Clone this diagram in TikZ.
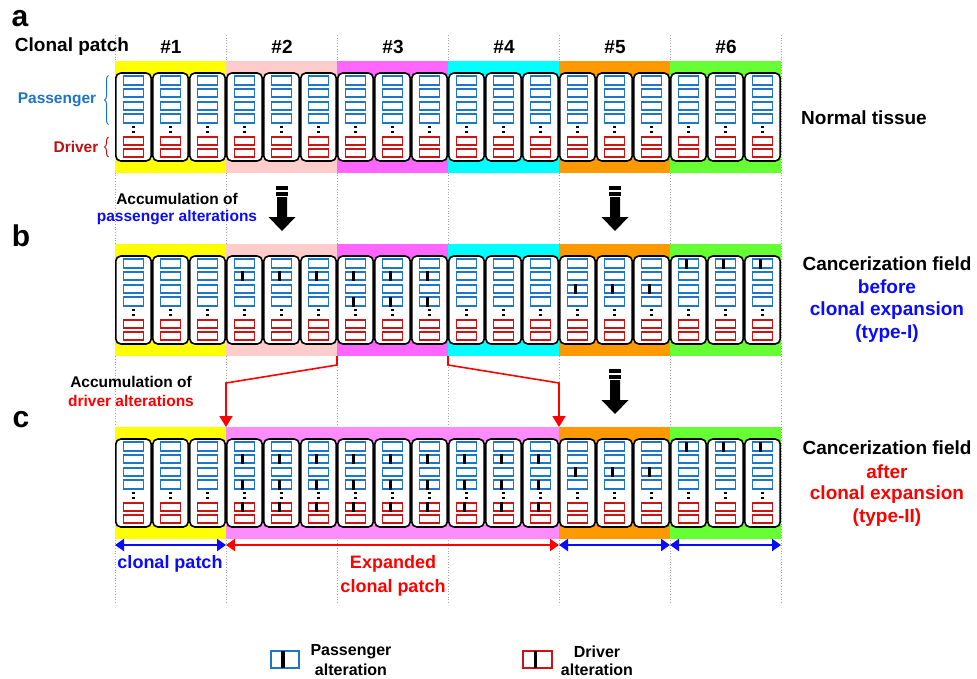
\documentclass[tikz,border=0pt]{standalone}
\usepackage{fontspec}
\setmainfont{Liberation Sans}
\usetikzlibrary{arrows.meta,decorations.pathreplacing}
\definecolor{pblue}{RGB}{30,118,200}
\definecolor{dred}{RGB}{204,20,20}
\definecolor{lblue}{RGB}{30,115,195}
\definecolor{ldred}{RGB}{192,16,16}
\definecolor{tblue}{RGB}{10,10,255}
\definecolor{tred}{RGB}{255,0,0}
\definecolor{byellow}{RGB}{255,255,0}
\definecolor{bpink}{RGB}{255,204,204}
\definecolor{bmag}{RGB}{255,102,255}
\definecolor{bmagl}{RGB}{255,140,255}
\definecolor{bcyan}{RGB}{0,255,255}
\definecolor{borange}{RGB}{255,153,0}
\definecolor{bgreen}{RGB}{102,255,51}
\newcommand\fs[1]{\fontsize{#1}{#1}\selectfont\bfseries}
\newcommand\mycell[3]{%
  \draw[cellbox] (#1+0.8,#2) rectangle (#1+36.2,#2+88);
  \foreach \dy in {7.5,20,33,45.5} \draw[pbox] (#1+8.5,#2+\dy-4.3) rectangle (#1+28.5,#2+\dy+4.3);
  \foreach \dy in {68,80} \draw[dbox] (#1+8.5,#2+\dy-4.3) rectangle (#1+28.5,#2+\dy+4.3);
  \fill (#1+17.1,#2+52.6) rectangle (#1+19.9,#2+55.4);
  \fill (#1+17.1,#2+57.6) rectangle (#1+19.9,#2+60.4);
  \foreach \m in {#3} {%
    \ifnum\m>0
      \ifcase\m\or\def\yy{7.5}\or\def\yy{20}\or\def\yy{33}\or\def\yy{45.5}\or\def\yy{68}\fi
      \fill (#1+15.2,#2+\yy-5) rectangle (#1+18,#2+\yy+5);
    \fi}
}
\newcommand\bigarrow[2]{%
  \fill (#1-6,#2) rectangle (#1+6,#2+3.5);
  \fill (#1-6,#2+5.5) rectangle (#1+6,#2+9.5);
  \fill (#1-5,#2+11) -- (#1+5,#2+11) -- (#1+5,#2+31) -- (#1+13.5,#2+31) -- (#1,#2+45)
        -- (#1-13.5,#2+31) -- (#1-5,#2+31) -- cycle;
}
\begin{document}
\begin{tikzpicture}[x=1pt,y=-1pt,
  cellbox/.style={draw=black,fill=white,line width=1.6pt,rounded corners=5pt},
  pbox/.style={draw=pblue,line width=1.8pt},
  dbox/.style={draw=dred,line width=1.8pt},
  gline/.style={draw=black!35,dotted,line width=0.7pt},
  redline/.style={draw=tred,line width=1.6pt},
  redtip/.style={-{Triangle[length=11pt,width=13pt]}},
  dblarr/.style={line width=2.2pt,{Triangle[length=9pt,width=12pt]}-{Triangle[length=9pt,width=12pt]}},
  lbl/.style={inner sep=0pt,align=center}]
\useasboundingbox (0,0) rectangle (977,678);
% dotted patch boundaries
\foreach \x in {115,226,337,448,559,670,781} \draw[gline] (\x,35) -- (\x,603);
% row a bands
\fill[byellow] (115,61) rectangle (226,173);
\fill[bpink] (226,61) rectangle (337,173);
\fill[bmag] (337,61) rectangle (448,173);
\fill[bcyan] (448,61) rectangle (559,173);
\fill[borange] (559,61) rectangle (670,173);
\fill[bgreen] (670,61) rectangle (781,173);
% row b bands
\fill[byellow] (115,244) rectangle (226,356);
\fill[bpink] (226,244) rectangle (337,356);
\fill[bmag] (337,244) rectangle (448,356);
\fill[bcyan] (448,244) rectangle (559,356);
\fill[borange] (559,244) rectangle (670,356);
\fill[bgreen] (670,244) rectangle (781,356);
% row c bands
\fill[byellow] (115,427) rectangle (226,539);
\fill[bmagl] (226,427) rectangle (559,539);
\fill[borange] (559,427) rectangle (670,539);
\fill[bgreen] (670,427) rectangle (781,539);
% row a cells
\foreach \i in {0,...,17} {\mycell{115+37*\i}{73}{0}}
% row b cells
\foreach \i in {0,1,2,9,10,11} {\mycell{115+37*\i}{256}{0}}
\foreach \i in {3,4,5} {\mycell{115+37*\i}{256}{2}}
\foreach \i in {6,7,8} {\mycell{115+37*\i}{256}{2,4}}
\foreach \i in {12,13,14} {\mycell{115+37*\i}{256}{3}}
\foreach \i in {15,16,17} {\mycell{115+37*\i}{256}{1}}
% row c cells
\foreach \i in {0,1,2} {\mycell{115+37*\i}{439}{0}}
\foreach \i in {3,...,11} {\mycell{115+37*\i}{439}{2,4,5}}
\foreach \i in {12,13,14} {\mycell{115+37*\i}{439}{3}}
\foreach \i in {15,16,17} {\mycell{115+37*\i}{439}{1}}
% panel letters
\node[lbl] (la) at (20,19) {\fs{30}a};
\node[lbl] (lb) at (21,236) {\fs{30}b};
\node[lbl] (lc) at (21,420) {\fs{30}c};
% header
\node[lbl] (cp) at (72,47) {\fs{19}Clonal patch};
\node[lbl] (h1) at (171,47) {\fs{19}\#1};
\node[lbl] (h2) at (282,47) {\fs{19}\#2};
\node[lbl] (h3) at (393,47) {\fs{19}\#3};
\node[lbl] (h4) at (504,47) {\fs{19}\#4};
\node[lbl] (h5) at (615,47) {\fs{19}\#5};
\node[lbl] (h6) at (726,47) {\fs{19}\#6};
% passenger/driver braces
\node[lbl,text=lblue] (pl) at (57,100) {\fs{15.5}Passenger};
\node[lbl,text=ldred] (dl) at (76,147) {\fs{15.5}Driver};
\draw[lblue,line width=1pt,decorate,decoration={brace,amplitude=4pt}] (108.5,124.5) -- (108.5,75.5);
\draw[ldred,line width=1pt,decorate,decoration={brace,amplitude=4pt}] (108.5,157) -- (108.5,137);
% right labels
\node[lbl] (nt) at (864,118) {\fs{19}Normal tissue};
\node[lbl] (cf1) at (887,264) {\fs{19}Cancerization field};
\node[lbl,text=tblue] (cf1b) at (887,287) {\fs{19}before};
\node[lbl,text=tblue] (cf1c) at (887,311) {\fs{19}clonal expansion};
\node[lbl,text=tblue] (cf1d) at (887,334) {\fs{19}(type-I)};
\node[lbl] (cf2) at (887,448) {\fs{19}Cancerization field};
\node[lbl,text=tred] (cf2b) at (887,472) {\fs{19}after};
\node[lbl,text=tred] (cf2c) at (887,495) {\fs{19}clonal expansion};
\node[lbl,text=tred] (cf2d) at (887,518) {\fs{19}(type-II)};
% accumulation labels
\node[lbl] (ac1) at (177,199) {\fs{15.5}Accumulation of};
\node[lbl,text=tblue] (ac1b) at (177,218) {\fs{15.5}passenger alterations};
\node[lbl] (ac2) at (131,382) {\fs{15.5}Accumulation of};
\node[lbl,text=tred] (ac2b) at (131,401) {\fs{15.5}driver alterations};
% big black arrows
\bigarrow{282}{186}
\bigarrow{615}{186}
\bigarrow{615}{369}
% red expansion connectors
\coordinate (b3l) at (337,356);
\coordinate (b3r) at (448,356);
\coordinate (cl) at (226,427);
\coordinate (cr) at (559,427);
\draw[redline,redtip] (b3l) -- (337,365) -- (226,383) -- (cl);
\draw[redline,redtip] (b3r) -- (448,365) -- (559,383) -- (cr);
% bottom double arrows
\coordinate (p0) at (115,545);
\coordinate (p1) at (226,545);
\coordinate (p2) at (559,545);
\coordinate (p3) at (670,545);
\coordinate (p4) at (781,545);
\draw[dblarr,tblue] (p0) -- (p1);
\draw[dblarr,tred] (p1) -- (p2);
\draw[dblarr,tblue] (p2) -- (p3);
\draw[dblarr,tblue] (p3) -- (p4);
\node[lbl,text=tblue] (cpb) at (170,564) {\fs{18}clonal patch};
\node[lbl,text=tred] (ex1) at (393,564) {\fs{18}Expanded};
\node[lbl,text=tred] (ex2) at (393,588) {\fs{18}clonal patch};
% legend
\draw[pbox,line width=2pt] (271,651) rectangle (299,668);
\fill (281,651) rectangle (284.5,668);
\node[lbl] (lg1) at (351,652) {\fs{16}Passenger};
\node[lbl] (lg1b) at (351,670) {\fs{16}alteration};
\draw[dbox,line width=2pt] (523,651) rectangle (552,668);
\fill (533.5,651) rectangle (537,668);
\node[lbl] (lg2) at (597,652) {\fs{16}Driver};
\node[lbl] (lg2b) at (597,670) {\fs{16}alteration};
\end{tikzpicture}
\end{document}
